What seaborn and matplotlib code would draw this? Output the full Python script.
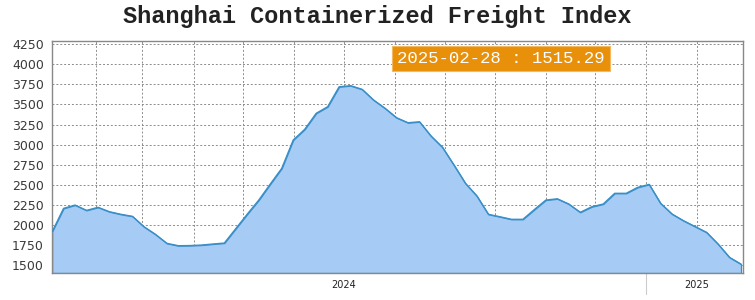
import pandas as pd
import numpy as np
import matplotlib
matplotlib.use('Agg')
import matplotlib.pyplot as plt
import seaborn as sns

# SCFI readings, one every 12 days, ending 2025-02-28
scfi = [1917, 2208, 2249, 2183, 2221, 2166, 2134, 2109, 1980, 1885,
        1773, 1744, 1746, 1752, 1765, 1777, 1957, 2137, 2311, 2510,
        2705, 3057, 3190, 3389, 3471, 3719, 3732, 3687, 3554, 3451,
        3334, 3272, 3284, 3107, 2966, 2746, 2519, 2361, 2134, 2104,
        2072, 2072, 2193, 2311, 2327, 2262, 2159, 2228, 2262, 2395,
        2395, 2469, 2506, 2270, 2137, 2054, 1982, 1910, 1765, 1599,
        1515.29]
dates = pd.date_range(end='2025-02-28', periods=len(scfi), freq='12D')

tick_dates = pd.to_datetime(['2023-04-26', '2023-06-13', '2023-08-06', '2023-09-27',
                             '2023-11-19', '2024-01-10', '2024-03-03', '2024-04-25',
                             '2024-06-16', '2024-08-08', '2024-09-28', '2024-11-21',
                             '2025-01-13'])
tick_labels = ['', '', '', '', '', '2024', '', '', '', '', '', '', '2025']
yticks = list(range(1500, 4251, 250))

df = pd.DataFrame({'date': dates, 'SCFI': scfi})

sns.set_style('white')
fig = plt.figure(figsize=(7.55, 3.0), dpi=100)
ax = fig.add_axes([0.069, 0.09, 0.915, 0.774])

ymin, ymax = 1405, 4290
ax.fill_between(df['date'], df['SCFI'], ymin, color='#a6cbf4', edgecolor='#3a8fc8', linewidth=0.9, zorder=2)
sns.lineplot(data=df, x='date', y='SCFI', ax=ax, color='#3a8fc8', linewidth=1.0, zorder=3)

ax.set_xlim(dates[0], dates[-1] + pd.Timedelta(days=2))
ax.set_ylim(ymin, ymax)
ax.set_yticks(yticks)
ax.set_yticklabels([str(v) for v in yticks], fontsize=9, color='#3a3a3a', family='DejaVu Sans')
ax.set_xticks(tick_dates)
ax.set_xticklabels(tick_labels, fontsize=7, color='#222222', family='DejaVu Sans')
ax.set_xlabel('')
ax.set_ylabel('')
ax.tick_params(axis='both', direction='out', length=3, width=0.8, color='#999999', pad=2)
ax.tick_params(axis='y', pad=3)

ax.grid(True, color='#8c8c8c', linestyle=(0, (2, 2)), linewidth=0.7, zorder=0)
ax.set_axisbelow(True)
for s in ax.spines.values():
    s.set_color('#888888')
    s.set_linewidth(1.0)

# separator line under the axis
sep = pd.Timestamp('2024-11-21')
ax.plot([sep, sep], [0, -0.09], transform=ax.get_xaxis_transform(), clip_on=False,
        color='#cccccc', linewidth=0.8)

ax.text(0.65, 0.923, '2025-02-28 : 1515.29', transform=ax.transAxes, ha='center', va='center',
        fontsize=12.5, color='white', family='Liberation Mono', zorder=5,
        bbox=dict(boxstyle='square,pad=0.3', facecolor='#e8900a', edgecolor='#f3b860', linewidth=0.8))

fig.text(0.5, 0.945, 'Shanghai Containerized Freight Index', ha='center', va='center',
         fontsize=17, fontweight='bold', family='Liberation Mono', color='#222222')

fig.savefig('out.png', dpi=100)
